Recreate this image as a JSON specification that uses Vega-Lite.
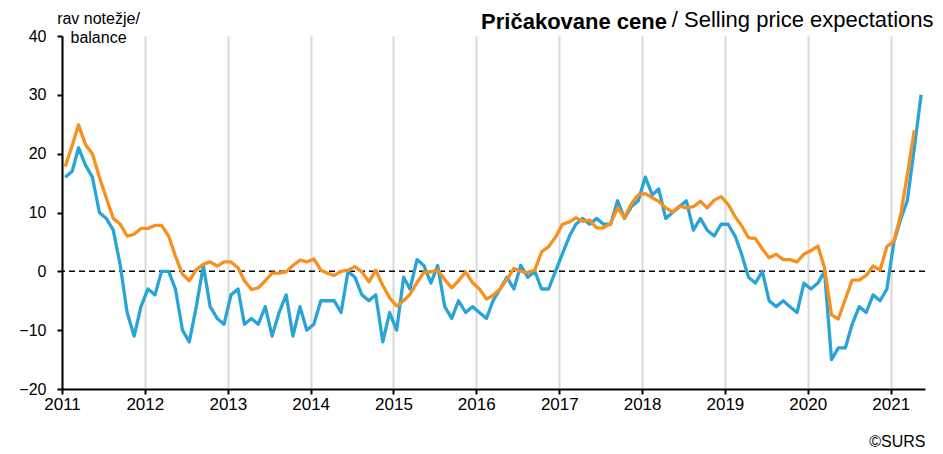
{
  "$schema": "https://vega.github.io/schema/vega-lite/v6.json",
  "width": 863,
  "height": 353,
  "autosize": {"type": "none"},
  "padding": {"left": 62, "top": 36, "right": 18, "bottom": 65},
  "background": "white",
  "config": {"view": {"stroke": null}, "font": "Liberation Sans"},
  "title": {"text": "Pričakovane cene", "anchor": "end", "fontSize": 22, "fontWeight": "bold", "font": "Liberation Sans", "color": "black", "baseline": "alphabetic", "offset": 10, "dx": -266, "dy": 53},
  "datasets": {
    "blue": [
      {"date":"2011-01-15","v":16},{"date":"2011-02-15","v":17},{"date":"2011-03-15","v":21},{"date":"2011-04-15","v":18},{"date":"2011-05-15","v":16},{"date":"2011-06-15","v":10},{"date":"2011-07-15","v":9},{"date":"2011-08-15","v":7},{"date":"2011-09-15","v":1},{"date":"2011-10-15","v":-7},{"date":"2011-11-15","v":-11},{"date":"2011-12-15","v":-6},
      {"date":"2012-01-15","v":-3},{"date":"2012-02-15","v":-4},{"date":"2012-03-15","v":0},{"date":"2012-04-15","v":0},{"date":"2012-05-15","v":-3},{"date":"2012-06-15","v":-10},{"date":"2012-07-15","v":-12},{"date":"2012-08-15","v":-6},{"date":"2012-09-15","v":1},{"date":"2012-10-15","v":-6},{"date":"2012-11-15","v":-8},{"date":"2012-12-15","v":-9},
      {"date":"2013-01-15","v":-4},{"date":"2013-02-15","v":-3},{"date":"2013-03-15","v":-9},{"date":"2013-04-15","v":-8},{"date":"2013-05-15","v":-9},{"date":"2013-06-15","v":-6},{"date":"2013-07-15","v":-11},{"date":"2013-08-15","v":-7},{"date":"2013-09-15","v":-4},{"date":"2013-10-15","v":-11},{"date":"2013-11-15","v":-6},{"date":"2013-12-15","v":-10},
      {"date":"2014-01-15","v":-9},{"date":"2014-02-15","v":-5},{"date":"2014-03-15","v":-5},{"date":"2014-04-15","v":-5},{"date":"2014-05-15","v":-7},{"date":"2014-06-15","v":0},{"date":"2014-07-15","v":-1},{"date":"2014-08-15","v":-4},{"date":"2014-09-15","v":-5},{"date":"2014-10-15","v":-4},{"date":"2014-11-15","v":-12},{"date":"2014-12-15","v":-7},
      {"date":"2015-01-15","v":-10},{"date":"2015-02-15","v":-1},{"date":"2015-03-15","v":-3},{"date":"2015-04-15","v":2},{"date":"2015-05-15","v":1},{"date":"2015-06-15","v":-2},{"date":"2015-07-15","v":1},{"date":"2015-08-15","v":-6},{"date":"2015-09-15","v":-8},{"date":"2015-10-15","v":-5},{"date":"2015-11-15","v":-7},{"date":"2015-12-15","v":-6},
      {"date":"2016-01-15","v":-7},{"date":"2016-02-15","v":-8},{"date":"2016-03-15","v":-5},{"date":"2016-04-15","v":-3},{"date":"2016-05-15","v":-1},{"date":"2016-06-15","v":-3},{"date":"2016-07-15","v":1},{"date":"2016-08-15","v":-1},{"date":"2016-09-15","v":0},{"date":"2016-10-15","v":-3},{"date":"2016-11-15","v":-3},{"date":"2016-12-15","v":0},
      {"date":"2017-01-15","v":3},{"date":"2017-02-15","v":6},{"date":"2017-03-15","v":8},{"date":"2017-04-15","v":9},{"date":"2017-05-15","v":8},{"date":"2017-06-15","v":9},{"date":"2017-07-15","v":8},{"date":"2017-08-15","v":8},{"date":"2017-09-15","v":12},{"date":"2017-10-15","v":9},{"date":"2017-11-15","v":11},{"date":"2017-12-15","v":12},
      {"date":"2018-01-15","v":16},{"date":"2018-02-15","v":13},{"date":"2018-03-15","v":14},{"date":"2018-04-15","v":9},{"date":"2018-05-15","v":10},{"date":"2018-06-15","v":11},{"date":"2018-07-15","v":12},{"date":"2018-08-15","v":7},{"date":"2018-09-15","v":9},{"date":"2018-10-15","v":7},{"date":"2018-11-15","v":6},{"date":"2018-12-15","v":8},
      {"date":"2019-01-15","v":8},{"date":"2019-02-15","v":6},{"date":"2019-03-15","v":3},{"date":"2019-04-15","v":-1},{"date":"2019-05-15","v":-2},{"date":"2019-06-15","v":0},{"date":"2019-07-15","v":-5},{"date":"2019-08-15","v":-6},{"date":"2019-09-15","v":-5},{"date":"2019-10-15","v":-6},{"date":"2019-11-15","v":-7},{"date":"2019-12-15","v":-2},
      {"date":"2020-01-15","v":-3},{"date":"2020-02-15","v":-2},{"date":"2020-03-15","v":0},{"date":"2020-04-15","v":-15},{"date":"2020-05-15","v":-13},{"date":"2020-06-15","v":-13},{"date":"2020-07-15","v":-9},{"date":"2020-08-15","v":-6},{"date":"2020-09-15","v":-7},{"date":"2020-10-15","v":-4},{"date":"2020-11-15","v":-5},{"date":"2020-12-15","v":-3},
      {"date":"2021-01-15","v":5},{"date":"2021-02-15","v":9},{"date":"2021-03-15","v":12},{"date":"2021-04-15","v":21},{"date":"2021-05-15","v":30}
    ],
    "orange": [
      {"date":"2011-01-15","v":17.8},{"date":"2011-02-15","v":21.4},{"date":"2011-03-15","v":24.9},{"date":"2011-04-15","v":21.5},{"date":"2011-05-15","v":20},{"date":"2011-06-15","v":16},{"date":"2011-07-15","v":12.5},{"date":"2011-08-15","v":9},{"date":"2011-09-15","v":8},{"date":"2011-10-15","v":6},{"date":"2011-11-15","v":6.3},{"date":"2011-12-15","v":7.3},
      {"date":"2012-01-15","v":7.3},{"date":"2012-02-15","v":7.8},{"date":"2012-03-15","v":7.8},{"date":"2012-04-15","v":6},{"date":"2012-05-15","v":2.6},{"date":"2012-06-15","v":-0.5},{"date":"2012-07-15","v":-1.6},{"date":"2012-08-15","v":0.3},{"date":"2012-09-15","v":1.2},{"date":"2012-10-15","v":1.6},{"date":"2012-11-15","v":0.9},{"date":"2012-12-15","v":1.6},
      {"date":"2013-01-15","v":1.6},{"date":"2013-02-15","v":0.6},{"date":"2013-03-15","v":-1.6},{"date":"2013-04-15","v":-3.1},{"date":"2013-05-15","v":-2.8},{"date":"2013-06-15","v":-1.6},{"date":"2013-07-15","v":-0.3},{"date":"2013-08-15","v":-0.3},{"date":"2013-09-15","v":-0.1},{"date":"2013-10-15","v":1},{"date":"2013-11-15","v":1.9},{"date":"2013-12-15","v":1.6},
      {"date":"2014-01-15","v":2.1},{"date":"2014-02-15","v":0.2},{"date":"2014-03-15","v":-0.3},{"date":"2014-04-15","v":-0.7},{"date":"2014-05-15","v":0},{"date":"2014-06-15","v":0.2},{"date":"2014-07-15","v":0.8},{"date":"2014-08-15","v":-0.1},{"date":"2014-09-15","v":-1.8},{"date":"2014-10-15","v":0.2},{"date":"2014-11-15","v":-2.4},{"date":"2014-12-15","v":-4.5},
      {"date":"2015-01-15","v":-5.9},{"date":"2015-02-15","v":-5},{"date":"2015-03-15","v":-3.9},{"date":"2015-04-15","v":-1.9},{"date":"2015-05-15","v":-0.2},{"date":"2015-06-15","v":-0.1},{"date":"2015-07-15","v":0.2},{"date":"2015-08-15","v":-1.4},{"date":"2015-09-15","v":-2.8},{"date":"2015-10-15","v":-1.6},{"date":"2015-11-15","v":-0.1},{"date":"2015-12-15","v":-1.9},
      {"date":"2016-01-15","v":-3},{"date":"2016-02-15","v":-4.7},{"date":"2016-03-15","v":-4.1},{"date":"2016-04-15","v":-3},{"date":"2016-05-15","v":-1.4},{"date":"2016-06-15","v":0.5},{"date":"2016-07-15","v":0},{"date":"2016-08-15","v":-0.2},{"date":"2016-09-15","v":0.2},{"date":"2016-10-15","v":3.3},{"date":"2016-11-15","v":4.2},{"date":"2016-12-15","v":5.8},
      {"date":"2017-01-15","v":8},{"date":"2017-02-15","v":8.4},{"date":"2017-03-15","v":9.1},{"date":"2017-04-15","v":8.5},{"date":"2017-05-15","v":8.7},{"date":"2017-06-15","v":7.4},{"date":"2017-07-15","v":7.4},{"date":"2017-08-15","v":8.1},{"date":"2017-09-15","v":10.8},{"date":"2017-10-15","v":9.1},{"date":"2017-11-15","v":11.5},{"date":"2017-12-15","v":13},
      {"date":"2018-01-15","v":13.2},{"date":"2018-02-15","v":12.5},{"date":"2018-03-15","v":11.9},{"date":"2018-04-15","v":10.8},{"date":"2018-05-15","v":10.1},{"date":"2018-06-15","v":11.1},{"date":"2018-07-15","v":10.8},{"date":"2018-08-15","v":11},{"date":"2018-09-15","v":11.9},{"date":"2018-10-15","v":10.8},{"date":"2018-11-15","v":12.1},{"date":"2018-12-15","v":12.7},
      {"date":"2019-01-15","v":11.4},{"date":"2019-02-15","v":9.3},{"date":"2019-03-15","v":7.8},{"date":"2019-04-15","v":5.7},{"date":"2019-05-15","v":5.6},{"date":"2019-06-15","v":3.8},{"date":"2019-07-15","v":2.3},{"date":"2019-08-15","v":2.9},{"date":"2019-09-15","v":2},{"date":"2019-10-15","v":2},{"date":"2019-11-15","v":1.6},{"date":"2019-12-15","v":2.9},
      {"date":"2020-01-15","v":3.5},{"date":"2020-02-15","v":4.3},{"date":"2020-03-15","v":0.6},{"date":"2020-04-15","v":-7.4},{"date":"2020-05-15","v":-8.1},{"date":"2020-06-15","v":-4.7},{"date":"2020-07-15","v":-1.5},{"date":"2020-08-15","v":-1.5},{"date":"2020-09-15","v":-0.7},{"date":"2020-10-15","v":0.9},{"date":"2020-11-15","v":0.2},{"date":"2020-12-15","v":4.2},
      {"date":"2021-01-15","v":5.1},{"date":"2021-02-15","v":9.9},{"date":"2021-03-15","v":16.4},{"date":"2021-04-15","v":24}
    ]
  },
  "resolve": {"scale": {"y": "independent"}, "axis": {"y": "independent"}},
  "layer": [
    {
      "data": {"values": [{}]},
      "mark": {"type": "rule", "color": "black", "strokeWidth": 1.5, "strokeDash": [6, 4]},
      "encoding": {
        "y": {"datum": 0, "type": "quantitative", "scale": {"domain": [-20, 40]}, "axis": null}
      }
    },
    {
      "data": {"name": "blue"},
      "mark": {"type": "line", "color": "#29a4d6", "strokeWidth": 3.3, "strokeJoin": "round"},
      "encoding": {
        "x": {
          "field": "date", "type": "temporal",
          "scale": {"type": "utc", "domain": [{"year": 2011, "month": 1, "date": 1, "utc": true}, {"year": 2021, "month": 6, "date": 1, "utc": true}]},
          "axis": {
            "tickCount": "year", "format": "%Y", "formatType": "utc",
            "grid": true, "gridColor": "#d9d9d9", "gridWidth": 2,
            "domainColor": "black", "domainWidth": 2, "tickColor": "black", "tickWidth": 2, "tickSize": 5,
            "labelFontSize": 17, "labelColor": "black", "labelPadding": 2, "labelFlush": false, "labelOverlap": false, "labelFont": "Liberation Sans",
            "title": "©SURS", "titleFontSize": 16, "titleFontWeight": "normal", "titleColor": "black", "titleFont": "Liberation Sans",
            "titleAlign": "right", "titleX": 863, "titleY": 57, "titleBaseline": "alphabetic", "titleAnchor": null
          }
        },
        "y": {
          "field": "v", "type": "quantitative", "scale": {"domain": [-20, 40]},
          "axis": {
            "orient": "left", "values": [-20, -10, 0, 10, 20, 30, 40], "grid": false,
            "domainColor": "black", "domainWidth": 2, "tickColor": "black", "tickWidth": 2, "tickSize": 5,
            "labelFontSize": 16, "labelColor": "black", "labelPadding": 11, "labelFont": "Liberation Sans",
            "title": ["rav notežje/", "balance"], "titleAngle": 0, "titleAlign": "center", "titleX": 36, "titleY": -13,
            "titleBaseline": "alphabetic", "titleFontSize": 16, "titleFontWeight": "normal", "titleColor": "black", "titleLineHeight": 19, "titleFont": "Liberation Sans"
          }
        }
      }
    },
    {
      "data": {"name": "orange"},
      "mark": {"type": "line", "color": "#f7901e", "strokeWidth": 3.3, "strokeJoin": "round"},
      "encoding": {
        "x": {
          "field": "date", "type": "temporal",
          "scale": {"type": "utc", "domain": [{"year": 2011, "month": 1, "date": 1, "utc": true}, {"year": 2021, "month": 6, "date": 1, "utc": true}]}
        },
        "y": {
          "field": "v", "type": "quantitative", "scale": {"domain": [-20, 40]},
          "axis": {
            "orient": "right", "labels": false, "ticks": false, "domain": false, "grid": false,
            "title": "/ Selling price expectations", "titleAngle": 0, "titleAlign": "right", "titleX": 8, "titleY": -10,
            "titleBaseline": "alphabetic", "titleFontSize": 22, "titleFontWeight": "normal", "titleColor": "black", "titleFont": "Liberation Sans"
          }
        }
      }
    }
  ]
}
